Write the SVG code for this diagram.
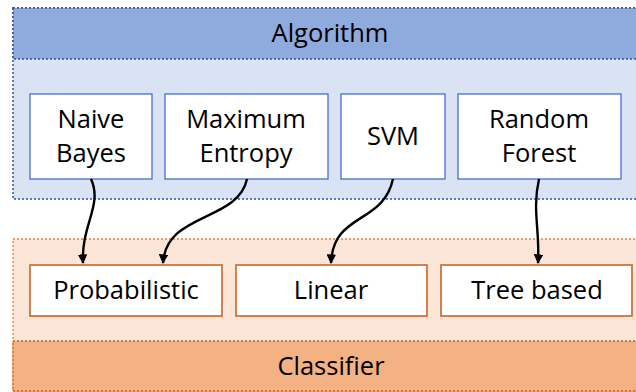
<svg xmlns="http://www.w3.org/2000/svg" width="636" height="392" viewBox="0 0 636 392">
<defs>
<style>
text{font-family:"Open Sans","Liberation Sans",sans-serif;font-size:25.5px;fill:#000;text-anchor:middle}
.abox{fill:#fff;stroke:#4472C4;stroke-width:1.3}
.cbox{fill:#fff;stroke:#D0743C;stroke-width:1.8}
.conn{fill:none;stroke:#000;stroke-width:2.4}
</style>
<marker id="ah" viewBox="0 0 10 10" refX="9" refY="5" markerWidth="4" markerHeight="4" orient="auto" markerUnits="strokeWidth">
<path d="M0,0 L10,5 L0,10 z" fill="#000"/>
</marker>
</defs>
<rect width="636" height="392" fill="#fff"/>
<g id="algorithm">
<rect x="13" y="8" width="630" height="191" fill="#DAE3F3" stroke="#2F5597" stroke-width="1.5" stroke-dasharray="2,2"/>
<rect x="13" y="8" width="630" height="51" fill="#8FAADC" stroke="#2F5597" stroke-width="1.5" stroke-dasharray="2,2"/>
<text x="330" y="42">Algorithm</text>
</g>
<g id="classifier">
<rect x="13" y="239" width="630" height="152" fill="#FBE5D6" stroke="#ED7D31" stroke-width="1.3" stroke-dasharray="2,2"/>
<rect x="13" y="341" width="630" height="50" fill="#F4B183" stroke="#C55A11" stroke-width="1.3" stroke-dasharray="2,2"/>
<text x="331" y="375">Classifier</text>
</g>
<g id="naive-bayes">
<rect class="abox" x="30" y="94" width="122" height="85"/>
<text x="91" y="128">Naive</text>
<text x="91" y="162">Bayes</text>
</g>
<g id="maximum-entropy">
<rect class="abox" x="165" y="94" width="163" height="85"/>
<text x="246" y="128">Maximum</text>
<text x="246" y="162">Entropy</text>
</g>
<g id="svm">
<rect class="abox" x="341" y="94" width="104" height="85"/>
<text x="393" y="145">SVM</text>
</g>
<g id="random-forest">
<rect class="abox" x="458" y="94" width="163" height="85"/>
<text x="539" y="128">Random</text>
<text x="539" y="162">Forest</text>
</g>
<g id="probabilistic">
<rect class="cbox" x="30" y="265" width="192" height="51"/>
<text x="126" y="299">Probabilistic</text>
</g>
<g id="linear">
<rect class="cbox" x="236" y="265" width="191" height="51"/>
<text x="331" y="299">Linear</text>
</g>
<g id="tree-based">
<rect class="cbox" x="441" y="265" width="191" height="51"/>
<text x="537" y="299">Tree based</text>
</g>
<g id="connectors">
<path class="conn" marker-end="url(#ah)" d="M91,179 C103,205 81,225 83,263"/>
<path class="conn" marker-end="url(#ah)" d="M247,179 C238,222 166,212 163,263"/>
<path class="conn" marker-end="url(#ah)" d="M393,179 C383,225 333,212 331,263"/>
<path class="conn" marker-end="url(#ah)" d="M539,179 C532,210 540,230 538,263"/>
</g>
</svg>
